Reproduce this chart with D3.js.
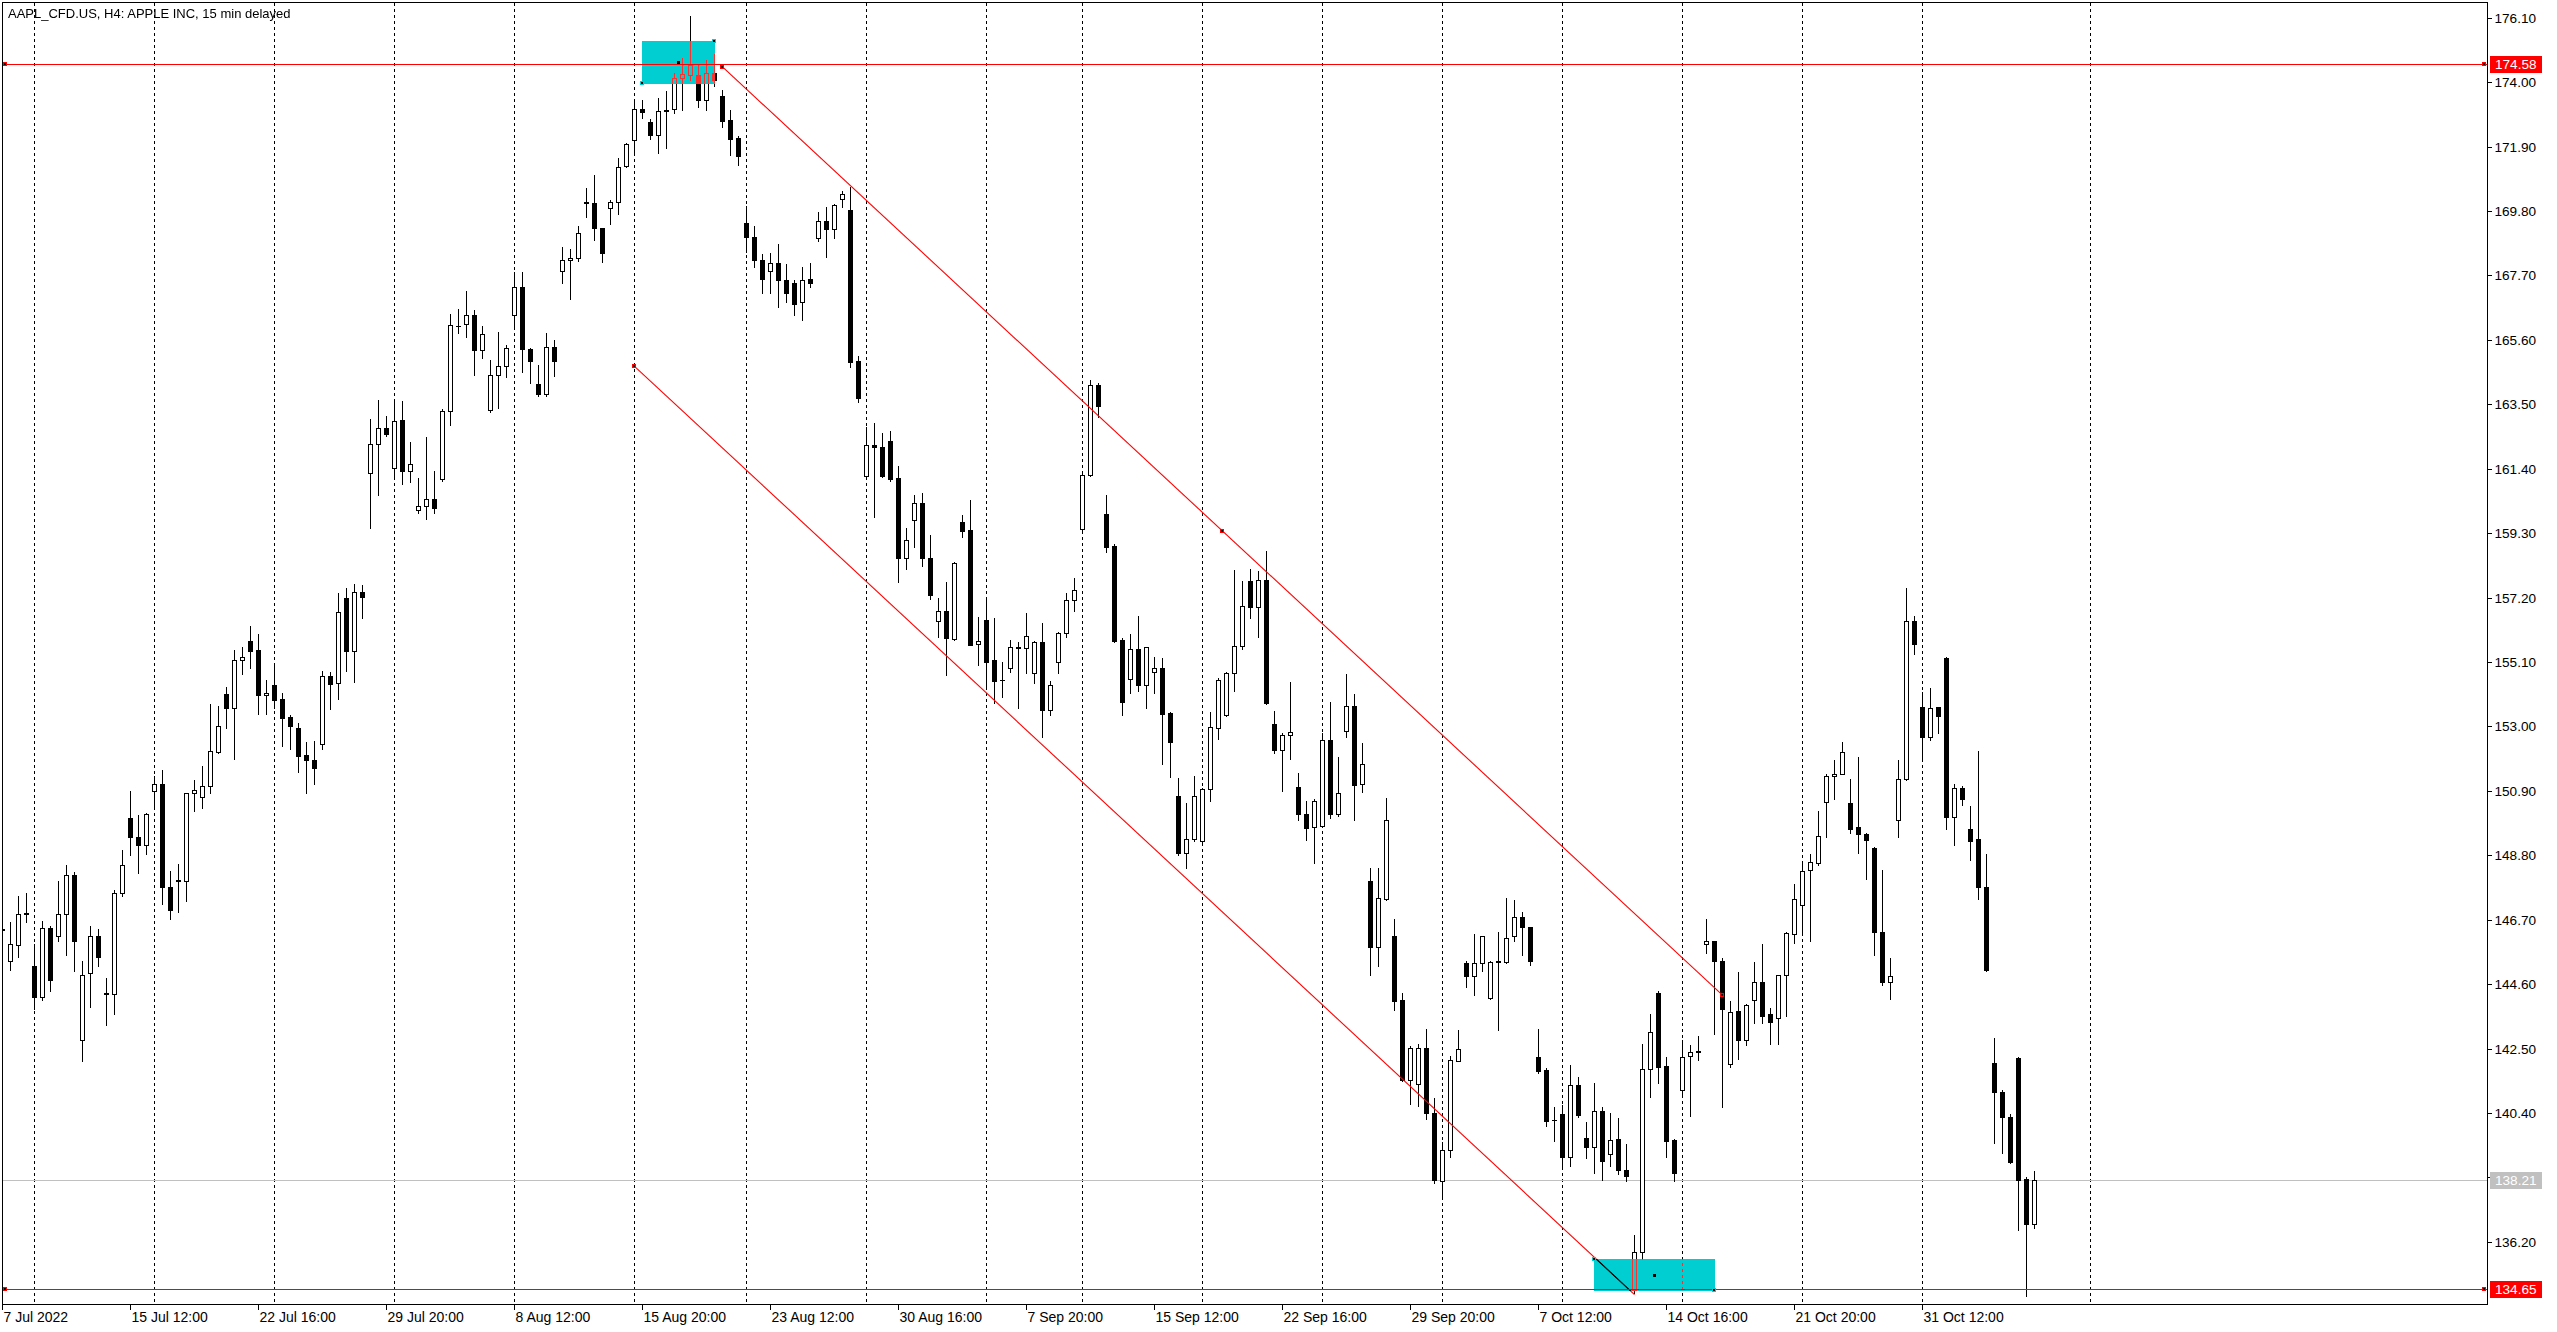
<!DOCTYPE html>
<html><head><meta charset="utf-8">
<script src="https://cdn.jsdelivr.net/npm/d3@7"></script>
<style>
html,body{margin:0;padding:0;background:#fff;overflow:hidden}
svg{display:block}
</style></head><body>
<svg id="c" width="2557" height="1332"></svg>
<script>
// ---- DATA (H4 bars, index 0 = first visible bar) ----
const opens = [
146.40,145.34,145.89,146.93,145.19,144.19,146.43,146.16,146.87,148.16,
142.79,144.95,146.16,144.30,144.29,147.56,150.00,149.38,149.13,150.89,
151.12,147.78,147.99,147.97,150.82,150.69,151.05,152.18,154.05,153.61,
155.16,155.80,155.48,154.01,154.35,153.88,153.31,152.94,152.06,151.90,
152.42,154.63,154.40,157.18,155.46,157.37,161.26,162.22,162.72,161.44,
162.99,161.34,160.04,160.17,160.41,161.07,163.27,166.06,166.13,166.40,
165.26,163.31,164.44,164.75,166.41,167.34,165.29,164.17,163.84,165.38,
167.86,168.22,168.28,170.09,170.06,169.24,169.90,170.09,171.26,172.12,
173.13,172.71,172.29,173.08,173.14,174.15,174.23,174.23,173.41,174.31,
173.55,172.76,172.18,169.41,168.95,168.20,167.83,168.10,167.56,167.45,
166.82,167.58,168.91,169.46,169.21,170.20,169.84,164.91,161.15,162.18,
162.11,162.30,161.10,158.48,159.73,160.28,158.48,156.43,156.77,155.86,
159.66,159.41,155.70,156.46,155.15,154.52,154.91,155.58,155.55,154.75,
155.74,153.55,155.09,156.06,157.11,159.45,161.21,164.13,159.92,158.87,
155.82,154.54,155.52,154.34,154.77,154.90,153.44,150.72,148.86,149.34,
149.25,150.97,152.96,153.36,154.73,155.61,157.74,156.89,157.76,153.08,
152.23,152.71,151.03,150.15,149.71,149.77,152.57,150.13,152.84,153.66,
151.11,147.97,145.80,147.38,146.17,144.08,141.49,141.33,142.52,140.41,
138.17,139.18,142.10,145.30,144.85,145.28,144.14,145.34,145.33,146.16,
146.78,146.46,142.22,141.81,140.18,140.36,138.96,141.31,139.58,139.28,
140.47,139.05,139.56,138.55,134.62,135.87,141.83,144.32,141.93,139.52,
141.15,142.26,142.41,145.92,146.00,145.36,141.98,143.73,142.79,144.08,
144.68,143.62,143.51,144.89,146.24,147.17,148.32,148.56,150.55,151.37,
151.44,150.52,149.73,149.49,149.03,146.31,144.68,149.96,151.29,156.43,
153.63,152.66,153.63,155.23,150.05,150.99,149.65,149.34,147.78,142.03,
141.09,140.26,142.18,138.24,136.79];
const highs = [
146.55,146.62,147.47,147.57,145.91,146.66,146.50,147.96,148.48,148.26,
145.35,146.50,146.41,144.79,147.66,148.97,150.90,150.12,150.18,151.39,
151.57,148.28,148.51,150.84,151.24,151.71,153.73,153.68,154.27,155.48,
155.58,156.28,156.02,154.52,154.98,154.08,153.37,153.10,152.50,152.52,
154.80,154.77,157.35,157.51,157.64,157.61,163.03,163.64,163.13,163.57,
163.61,162.27,161.10,162.43,161.32,163.36,166.43,166.61,167.19,166.56,
166.05,164.96,165.86,165.45,167.80,167.80,165.33,164.78,165.83,165.59,
168.64,168.57,169.30,170.56,170.99,169.24,170.15,171.52,172.01,173.46,
173.42,172.79,173.49,173.72,174.31,174.78,176.16,174.59,174.71,174.91,
173.74,173.09,172.26,169.97,169.32,168.39,168.42,168.73,168.07,167.56,
167.99,168.10,169.78,169.93,170.04,170.47,170.60,165.07,162.75,162.90,
162.57,162.62,161.48,159.46,160.53,160.61,159.25,157.20,157.72,158.35,
159.89,160.38,156.57,157.12,156.54,155.11,155.83,155.74,156.70,155.80,
156.36,154.47,156.08,157.35,157.84,161.22,164.29,164.18,160.55,158.94,
155.89,156.01,156.61,155.60,155.27,155.24,153.47,151.31,150.50,151.39,
150.99,153.47,154.59,154.79,158.10,157.74,158.13,158.07,158.72,153.50,
152.80,154.45,151.48,150.56,150.63,152.77,153.80,152.00,154.70,154.05,
152.45,148.38,148.38,150.67,146.73,144.30,142.58,142.64,143.14,140.89,
139.44,142.25,143.11,145.34,146.23,146.17,145.34,146.31,147.41,147.34,
146.96,146.46,143.14,141.87,140.60,140.65,141.95,141.57,140.09,141.39,
140.60,140.41,140.24,139.38,136.43,142.66,143.61,144.38,142.22,139.56,
142.79,142.60,142.91,146.73,146.00,145.44,144.05,144.99,143.96,145.33,
145.92,143.82,144.89,146.30,147.87,148.50,148.84,150.24,151.44,151.91,
152.50,151.30,152.00,149.51,149.07,148.32,145.44,151.91,157.52,156.59,
154.11,154.25,153.64,155.26,151.13,151.07,150.40,152.19,148.84,142.84,
141.15,140.37,142.21,138.32,138.50];
const lows = [
146.20,145.07,145.50,146.64,143.79,144.07,144.38,146.01,145.56,145.04,
142.11,143.85,145.19,143.26,143.61,147.47,148.81,148.22,148.84,150.30,
147.22,146.72,146.94,147.32,150.25,150.34,150.84,152.15,152.96,151.95,
154.71,154.92,153.42,153.42,153.61,152.37,152.27,151.53,150.82,151.13,
152.27,153.58,153.90,154.80,154.45,156.52,159.47,160.56,162.46,161.08,
160.89,160.96,159.96,159.77,159.95,160.99,162.84,165.83,165.71,164.44,
165.01,163.24,163.39,164.38,165.98,164.56,164.21,163.76,163.76,164.41,
167.45,166.92,168.18,169.62,168.87,168.15,169.39,169.69,171.25,171.64,
172.82,172.15,171.70,171.85,173.01,173.08,174.07,173.20,173.09,173.87,
172.54,171.62,171.31,168.46,167.99,167.12,167.12,166.68,166.85,166.41,
166.25,167.31,168.81,168.31,168.91,169.92,164.72,163.57,161.12,159.82,
161.12,160.99,157.72,158.12,158.86,158.24,157.17,155.90,154.69,155.83,
159.17,155.67,154.99,154.28,153.77,153.97,154.79,153.61,154.75,154.43,
152.65,153.38,154.75,155.91,156.77,159.33,161.16,163.09,158.69,155.76,
153.38,154.09,154.14,153.61,154.09,151.79,151.36,148.82,148.37,149.27,
149.15,150.58,152.60,153.33,154.14,155.54,156.53,155.93,153.72,152.15,
150.91,151.95,149.96,149.31,148.56,149.76,150.02,150.07,152.67,149.95,
150.87,144.89,145.19,147.34,143.74,141.45,140.68,140.62,140.21,138.13,
137.63,138.96,142.10,144.50,144.26,145.04,144.10,143.09,145.28,145.99,
145.56,145.21,141.69,139.97,139.47,138.59,138.67,140.27,138.93,138.45,
138.23,138.67,138.41,138.17,134.53,135.64,140.92,141.39,138.96,138.19,
140.97,140.30,142.13,145.61,142.99,140.61,141.90,142.17,142.63,143.34,
143.34,142.65,142.65,143.57,145.95,146.19,146.00,148.48,149.38,150.63,
151.44,149.54,148.87,148.03,145.56,144.58,144.13,149.38,151.26,155.36,
151.88,152.55,152.77,149.67,149.12,150.43,148.64,147.36,145.02,139.41,
139.09,138.78,136.60,134.42,136.65];
const closes = [
146.38,145.91,146.89,146.87,144.19,146.43,144.75,146.87,148.16,146.00,
144.91,146.16,145.50,144.28,147.56,148.47,149.41,149.13,150.16,151.12,
147.78,147.03,147.97,150.82,150.92,151.07,152.19,153.00,153.61,155.16,
155.27,155.47,154.01,154.08,153.87,153.28,153.00,152.05,151.89,151.66,
154.63,154.37,156.72,155.46,157.37,157.22,162.22,162.72,162.52,162.97,
161.34,161.55,160.19,160.41,160.13,163.28,166.07,166.04,166.40,165.26,
165.78,164.44,164.74,165.32,167.33,165.29,164.90,163.84,165.38,164.90,
168.21,168.28,169.08,170.07,169.24,168.42,170.09,171.25,171.97,173.12,
173.03,172.29,173.07,173.06,174.15,174.26,174.55,173.41,174.31,174.07,
172.73,172.15,171.59,168.94,168.20,167.60,168.10,167.56,167.12,166.77,
167.56,167.44,169.46,169.21,170.01,170.36,164.89,163.72,162.18,162.12,
161.17,161.07,158.48,159.08,160.28,158.48,157.29,156.77,155.87,158.32,
159.38,155.67,155.79,155.11,154.48,154.50,155.59,155.56,155.96,155.74,
153.55,154.34,156.06,157.11,157.44,161.21,164.13,163.43,158.86,155.79,
153.81,155.52,154.34,155.60,154.90,153.42,152.49,148.86,149.34,150.72,
150.97,152.97,154.51,154.73,155.63,156.92,156.89,157.76,153.76,152.24,
152.71,152.82,150.13,149.70,150.58,152.57,150.13,150.83,153.66,151.09,
151.76,145.80,147.40,149.95,144.06,141.49,142.52,142.52,140.39,138.22,
139.20,142.13,142.48,144.85,145.28,146.16,145.33,145.32,146.10,146.78,
146.45,145.35,141.78,140.15,140.16,138.96,141.31,140.33,139.28,140.47,
138.85,139.53,138.53,138.35,135.87,141.83,143.03,141.90,139.50,138.43,
142.24,142.40,142.39,146.00,145.36,143.80,143.69,142.79,143.93,144.68,
143.57,143.38,144.89,146.27,147.36,148.29,148.57,149.43,151.37,151.46,
152.16,149.65,149.49,149.31,146.31,144.68,144.86,151.29,156.45,155.70,
152.66,153.59,153.33,150.05,150.98,150.63,149.28,147.78,145.05,141.07,
140.26,138.81,138.20,136.79,138.21];

const priceTicks = [176.10,174.00,171.90,169.80,167.70,165.60,163.50,161.40,159.30,157.20,
  155.10,153.00,150.90,148.80,146.70,144.60,142.50,140.40,138.30,136.20];
const timeLabels = ["7 Jul 2022","15 Jul 12:00","22 Jul 16:00","29 Jul 20:00","8 Aug 12:00",
  "15 Aug 20:00","23 Aug 12:00","30 Aug 16:00","7 Sep 20:00","15 Sep 12:00","22 Sep 16:00",
  "29 Sep 20:00","7 Oct 12:00","14 Oct 16:00","21 Oct 20:00","31 Oct 12:00"];
const timeLabelIdx = [0,16,32,48,64,80,96,112,128,144,160,176,192,208,224,240];
const gridIdx = [4,19,34,49,64,79,93,108,123,135,150,165,180,195,210,225,240,261];
const levelPrices = [174.58, 134.65];
const bidPrice = 138.21;
const channelLower = [[79,164.74],[204,134.48]];
const channelUpper = [[90,174.50],[215,144.24]];
const channelMid = [152.5,159.37];
const boxStart = [80,199], boxEnd = [89,214], boxLow = [173.96,134.62], boxHigh = [175.34,135.64];
const title = "AAPL_CFD.US, H4:  APPLE INC, 15 min delayed";

// ---- DRAW ----
const W = 2557, H = 1332;
const pL = 2.5, pT = 2.5, pR = 2487.5, pB = 1304.5;
const FONT = '"Liberation Sans", Arial, sans-serif';
const svg = d3.select('#c');
const x = d3.scaleLinear().domain([0, 1]).range([2.5, 10.5]);
const y = d3.scaleLinear().domain([136.2, 176.1]).range([1241.8, 17.8]);
const ry = v => Math.round(y(v));

svg.append('rect').attr('width', W).attr('height', H).attr('fill', '#fff');
svg.append('defs').append('clipPath').attr('id', 'pc')
  .append('rect').attr('x', 3).attr('y', 3).attr('width', 2484).attr('height', 1301);

const plot = svg.append('g').attr('clip-path', 'url(#pc)');
plot.append('rect').attr('x', 0).attr('y', 0).attr('width', 2490).attr('height', 1306).attr('fill', '#fff');

// grid
plot.append('g').selectAll('line').data(gridIdx).join('line')
  .attr('x1', d => x(d)).attr('x2', d => x(d)).attr('y1', pT).attr('y2', pB)
  .attr('stroke', '#000').attr('stroke-dasharray', '3,3').attr('shape-rendering', 'crispEdges');

// bid line
plot.append('line').attr('x1', pL).attr('x2', pR).attr('y1', ry(bidPrice) + 0.5).attr('y2', ry(bidPrice) + 0.5)
  .attr('stroke', '#c0c0c0').attr('shape-rendering', 'crispEdges');

// candles
const idx = d3.range(opens.length);
const cg = plot.append('g').attr('shape-rendering', 'crispEdges');
cg.selectAll('line.wick').data(idx).join('line').attr('class', 'wick')
  .attr('x1', i => x(i)).attr('x2', i => x(i))
  .attr('y1', i => ry(highs[i])).attr('y2', i => ry(lows[i]) + 1)
  .attr('stroke', '#000');
const isDoji = i => ry(Math.min(opens[i], closes[i])) - ry(Math.max(opens[i], closes[i])) < 1;
cg.selectAll('rect.body').data(idx.filter(i => !isDoji(i))).join('rect').attr('class', 'body')
  .attr('x', i => x(i) - 2).attr('width', 4)
  .attr('y', i => ry(Math.max(opens[i], closes[i])) + 0.5)
  .attr('height', i => ry(Math.min(opens[i], closes[i])) - ry(Math.max(opens[i], closes[i])))
  .attr('fill', i => closes[i] >= opens[i] ? '#fff' : '#000').attr('stroke', '#000');
cg.selectAll('line.doji').data(idx.filter(isDoji)).join('line').attr('class', 'doji')
  .attr('x1', i => x(i) - 2.5).attr('x2', i => x(i) + 2.5)
  .attr('y1', i => ry(opens[i]) + 0.5).attr('y2', i => ry(opens[i]) + 0.5)
  .attr('stroke', '#000');

// channel
[channelLower, channelUpper].forEach(c => {
  plot.append('line').attr('x1', x(c[0][0])).attr('y1', y(c[0][1]))
    .attr('x2', x(c[1][0])).attr('y2', y(c[1][1]))
    .attr('stroke', '#ff0000').attr('stroke-width', 1.1);
});

// rectangles (XOR-like)
boxStart.forEach((s, k) => {
  const x0 = Math.floor(x(s)), x1 = Math.floor(x(boxEnd[k])) + 1;
  const y0 = ry(boxHigh[k]), y1 = ry(boxLow[k]) + 1;
  plot.append('rect').attr('x', x0).attr('y', y0).attr('width', x1 - x0).attr('height', y1 - y0)
    .attr('fill', 'rgb(255,49,46)').style('mix-blend-mode', 'difference');
});

// horizontal level lines
levelPrices.forEach(p => {
  plot.append('line').attr('x1', pL).attr('x2', pR).attr('y1', ry(p) + 0.5).attr('y2', ry(p) + 0.5)
    .attr('stroke', '#ff0000').attr('shape-rendering', 'crispEdges');
});

// markers
function marker(px, py, stroke) {
  const cx = Math.floor(px), cy = Math.round(py);
  plot.append('rect').attr('x', cx - 1.5).attr('y', cy - 1.5).attr('width', 3).attr('height', 3)
    .attr('fill', '#000').attr('stroke', stroke).attr('shape-rendering', 'crispEdges');
}
levelPrices.forEach(p => { marker(5, y(p), '#ff0000'); marker(2484, y(p), '#ff0000'); });
marker(x(channelLower[0][0]), y(channelLower[0][1]), '#ff0000');
marker(x(channelUpper[0][0]), y(channelUpper[0][1]), '#ff0000');
marker(x(channelMid[0]), y(channelMid[1]), '#ff0000');
marker(x(channelUpper[1][0]), y(channelUpper[1][1]), '#ff0000');
boxStart.forEach((s, k) => {
  marker(x(s), y(k === 0 ? boxLow[k] : boxHigh[k]), 'rgb(0,206,209)');
  marker(x(boxEnd[k]), y(k === 0 ? boxHigh[k] : boxLow[k]), 'rgb(0,206,209)');
  const mx = Math.floor((x(s) + x(boxEnd[k])) / 2), my = Math.round(y((boxLow[k] + boxHigh[k]) / 2));
  plot.append('rect').attr('x', mx - 1).attr('y', my - 1).attr('width', 3).attr('height', 3).attr('fill', '#000');
});

// title
plot.append('text').attr('x', 8).attr('y', 18).attr('font-family', FONT).attr('font-size', 13)
  .attr('fill', '#000').text(title);

// frame
svg.append('rect').attr('x', pL).attr('y', pT).attr('width', pR - pL).attr('height', pB - pT)
  .attr('fill', 'none').attr('stroke', '#000').attr('shape-rendering', 'crispEdges');

// price axis
const ya = d3.axisRight(y).tickValues(priceTicks).tickFormat(d3.format('.2f'))
  .tickSize(4).tickPadding(3).tickSizeOuter(0).offset(0);
const gy = svg.append('g').attr('transform', `translate(${pR},0)`).call(ya);
gy.select('.domain').remove();
gy.selectAll('.tick').attr('transform', d => `translate(0,${ry(d) + 0.5})`);
gy.selectAll('.tick line').attr('stroke', '#000').attr('shape-rendering', 'crispEdges');
gy.selectAll('.tick text').attr('font-family', FONT).attr('font-size', 13.6).attr('fill', '#000');

// time axis
const xa = d3.axisBottom(x).tickValues(timeLabelIdx)
  .tickFormat(d => timeLabels[timeLabelIdx.indexOf(d)])
  .tickSize(5).tickPadding(3).tickSizeOuter(0).offset(0);
const gx = svg.append('g').attr('transform', `translate(0,${pB})`).call(xa);
gx.select('.domain').remove();
gx.selectAll('.tick line').attr('stroke', '#000').attr('shape-rendering', 'crispEdges');
gx.selectAll('.tick text').attr('font-family', FONT).attr('font-size', 14).attr('fill', '#000')
  .attr('text-anchor', 'start').attr('x', 1);

// price label boxes
const boxes = [[levelPrices[0], '#ff0000'], [levelPrices[1], '#ff0000'], [bidPrice, '#c0c0c0']];
boxes.forEach(([p, col]) => {
  svg.append('rect').attr('x', 2490).attr('y', ry(p) - 8).attr('width', 52).attr('height', 17).attr('fill', col);
  svg.append('text').attr('x', 2495).attr('y', ry(p) + 0.5).attr('dy', '0.32em')
    .attr('font-family', FONT).attr('font-size', 13.6).attr('fill', '#fff').text(d3.format('.2f')(p));
});
</script>
</body></html>
